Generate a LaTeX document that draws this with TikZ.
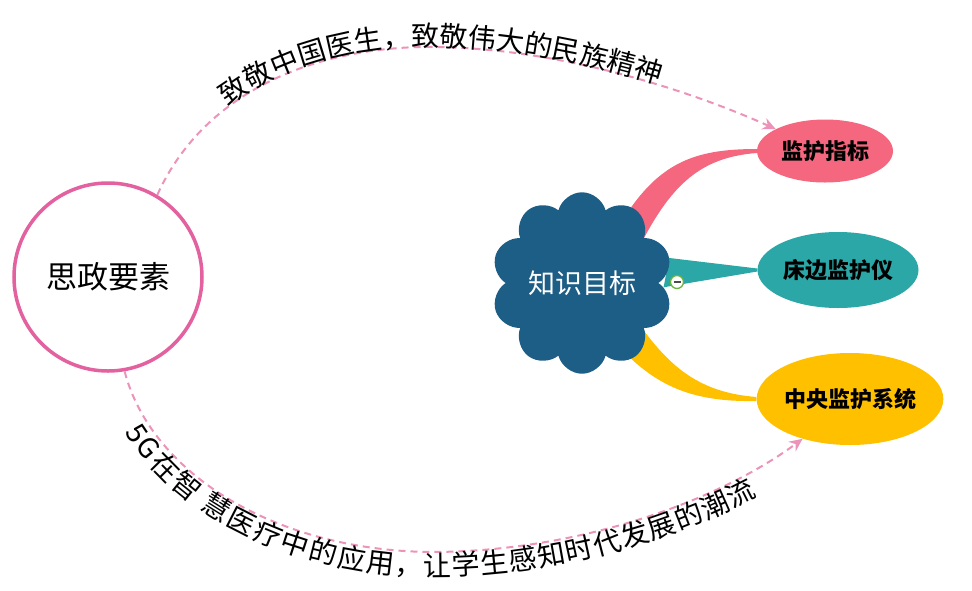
\documentclass[tikz,border=0pt]{standalone}
\usepackage{fontspec}
\newfontfamily\cjk{Noto Sans CJK SC}
\usetikzlibrary{shapes.geometric,shapes.symbols,decorations.text,arrows.meta,backgrounds}
\definecolor{circpink}{HTML}{E3619F}
\definecolor{dashpink}{HTML}{EC93B9}
\definecolor{cloudblue}{HTML}{1D5E86}
\definecolor{leafpink}{HTML}{F4677F}
\definecolor{leafteal}{HTML}{2AA7A6}
\definecolor{leafyellow}{HTML}{FFC000}
\definecolor{btngreen}{HTML}{6CB33E}
\begin{document}
\begin{tikzpicture}[x=1pt,y=-1pt,
  leaf/.style={ellipse, inner sep=0pt, text=black, font=\cjk\bfseries\fontsize{22}{22}\selectfont},
  pinkdash/.style={draw=dashpink, line width=2pt, dash pattern=on 7pt off 5pt, -{Stealth[length=13pt,width=12pt]}},
]
\path[use as bounding box] (0,0) rectangle (972,590);

\node[circle, draw=circpink, line width=3.5pt, minimum size=188pt, inner sep=0pt,
      font=\cjk\fontsize{31}{31}\selectfont] (s) at (108,277) {思政要素};
\node[cloud, cloud puffs=10, aspect=1, fill=cloudblue, draw=none, minimum width=170pt, minimum height=170pt,
      inner sep=0pt, text=white, font=\cjk\fontsize{27}{27}\selectfont] (k) at (582,283) {知识目标};

\node[leaf, fill=leafpink, minimum width=136pt, minimum height=63pt] (m1) at (825,151) {监护指标};
\node[leaf, fill=leafteal, minimum width=161pt, minimum height=76pt] (m2) at (838,270) {床边监护仪};
\node[leaf, fill=leafyellow, minimum width=186pt, minimum height=92pt] (m3) at (850,399) {中央监护系统};

\begin{scope}[on background layer]
  \fill[leafpink] (k.57) .. controls (665,160) and (700,149) .. ([yshift=2pt]m1.west)
     -- ([yshift=-2pt]m1.west) .. controls (705,157) and (675,180) .. (k.36) -- cycle;
  \fill[leafteal] (k.16) -- ([yshift=1.5pt]m2.west) -- ([yshift=-1.5pt]m2.west) -- (k.-3) -- cycle;
  \fill[leafyellow] (k.-57) .. controls (665,390) and (700,402) .. ([yshift=-2pt]m3.west)
     -- ([yshift=2pt]m3.west) .. controls (705,393) and (675,372) .. (k.-38) -- cycle;
\end{scope}

\node[circle, draw=btngreen, fill=white, line width=1.3pt, minimum size=13pt, inner sep=0pt] (b) at (677,282) {};
\draw[black!70, line width=1.5pt] ([xshift=-3.5pt]b.center) -- ([xshift=3.5pt]b.center);

\draw[pinkdash] (s.59) .. controls (200,100) and (300,50) .. (420,47) .. controls (560,45) and (700,95) .. (m1.156);
\path[decorate, decoration={text along path, raise=0.5pt, text align={left indent=114pt},
   text={|\cjk\fontsize{28}{28}\selectfont|致敬中国医生，致敬伟大的民族精神}}]
   (s.59) .. controls (200,100) and (300,50) .. (420,47) .. controls (560,45) and (700,95) .. (m1.156);

\draw[pinkdash] (s.280) .. controls (150,470) and (270,550) .. (430,552) .. controls (580,552) and (720,500) .. (m3.220);
\path[decorate, decoration={text along path, raise=-24pt, text align={left indent=52pt},
   text={|\cjk\fontsize{28}{28}\selectfont|5G在智 慧医疗中的应用，让学生感知时代发展的潮流}}]
   (s.280) .. controls (150,470) and (270,550) .. (430,552) .. controls (580,552) and (720,500) .. (m3.220);
\end{tikzpicture}
\end{document}
